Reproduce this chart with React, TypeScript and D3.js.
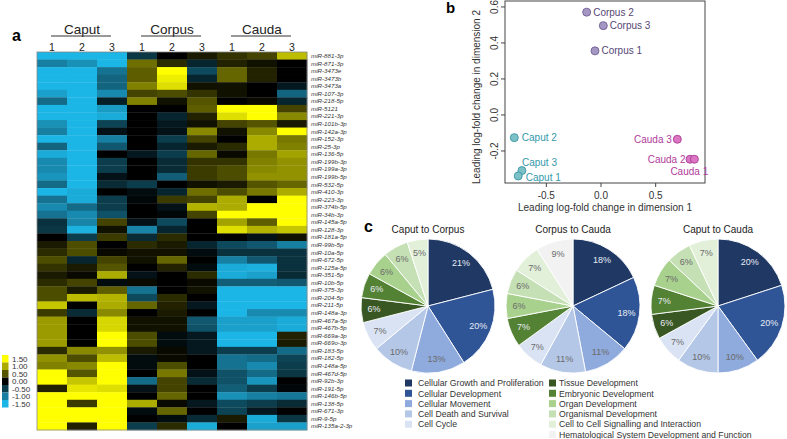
import React from 'react';
import * as d3 from 'd3';

// heatmap (z-scores)
const groups = ['Caput', 'Corpus', 'Cauda'];
const samples = ['1', '2', '3', '1', '2', '3', '1', '2', '3'];
const mirnas = [
  'miR-881-3p', 'miR-871-3p', 'miR-3473e', 'miR-3473b', 'miR-3473a', 'miR-107-3p', 'miR-218-5p',
  'miR-5121', 'miR-221-3p', 'miR-101b-3p', 'miR-142a-3p', 'miR-152-3p', 'miR-25-3p', 'miR-136-5p',
  'miR-199b-3p', 'miR-199a-3p', 'miR-199b-5p', 'miR-532-5p', 'miR-410-3p', 'miR-223-3p',
  'miR-374b-5p', 'miR-34b-3p', 'miR-145a-5p', 'miR-128-3p', 'miR-181a-5p', 'miR-99b-5p',
  'miR-10a-5p', 'miR-672-5p', 'miR-125a-5p', 'miR-351-5p', 'miR-10b-5p', 'miR-375-3p',
  'miR-204-5p', 'miR-211-5p', 'miR-148a-3p', 'miR-467a-5p', 'miR-467b-5p', 'miR-669a-3p',
  'miR-669o-3p', 'miR-183-5p', 'miR-182-5p', 'miR-148a-5p', 'miR-467d-5p', 'miR-92b-3p',
  'miR-191-5p', 'miR-146b-5p', 'miR-138-5p', 'miR-671-3p', 'miR-9-5p', 'miR-135a-2-3p',
];
const zscores = [
  [-1.5, -1.5, -1.5, -0.45, 0, 0.15, 0.3, 0.4, 1.1],
  [-1.0, -1.15, -1.5, 0.65, 0.25, -0.3, 0.2, 0.1, 0],
  [-1.5, -1.5, -0.9, 0.55, 1.5, -0.6, 0.6, 0.2, 0],
  [-1.5, -1.5, -0.8, 0.55, 1.4, -0.3, 0.6, 0.2, 0],
  [-1.5, -1.5, -0.8, 0.75, 1.3, 0.1, 0.1, 0, -0.2],
  [-1.3, -1.5, -1.1, 0.4, 0.45, 0.3, 0.1, 0, -0.8],
  [-0.85, -1.5, -0.25, 0.75, 0.1, 0.5, 0, 0.05, -0.3],
  [-1.5, -1.5, -1.25, 0, 0, 0.55, 1.5, 1.5, 0.4],
  [-1.5, -1.5, -1.4, 0, -0.3, 0.2, 1.3, 1.5, 0.8],
  [-1.15, -1.5, -0.55, 0, -0.2, 0.1, 0.4, 0.5, 0.15],
  [-1.0, -1.5, -0.15, 0, -0.15, 0.8, 0.1, 0.8, 1.5],
  [-1.5, -1.5, -1.0, 0, -0.5, 0.4, 0, 1.0, 0.7],
  [-0.8, -1.5, -0.7, 0, -0.3, 0.15, 0.25, 1.0, 0.75],
  [-1.4, -1.5, 0, -0.2, -0.5, 0.6, 0.05, 0.7, 0.95],
  [-1.1, -1.5, -0.5, 0, -0.35, 0.3, 0.3, 0.75, 0.85],
  [-1.1, -1.5, -0.5, 0, -0.35, 0.35, 0.45, 0.8, 0.85],
  [-1.2, -1.5, -0.15, 0, -0.75, 0.35, 0.45, 0.85, 0.85],
  [-0.85, -1.5, -0.35, -0.5, 0, 0.1, 0.15, 0.5, 0.6],
  [-1.5, -1.4, 0, -0.1, -0.3, 0.65, 0.45, 0.7, 1.0],
  [-0.9, -1.4, -0.5, -0.05, 0.35, 0.4, 1.0, 0, 1.5],
  [-1.1, -0.85, -0.5, 0, -0.15, 1.05, 1.0, 1.5, 1.5],
  [-0.9, -1.1, -0.65, 0, -0.05, 0.4, 1.5, 1.5, 1.5],
  [-0.4, -1.05, 0.4, -0.15, -0.6, 0, 0.95, 0.55, 1.5],
  [-0.45, -1.45, 0.1, -1.05, -0.3, 0, 1.3, 1.05, 1.15],
  [0, -0.5, 0.35, -0.35, 0.25, 0, 0, -0.15, 0.1],
  [0.15, 0.45, 0, 0.25, 0.15, -0.3, -0.6, -0.7, -1.0],
  [0.25, 0.45, 0.05, 0.1, 0.1, -0.1, -0.4, -0.4, -0.4],
  [0.45, -0.3, 0.4, 0.1, 0.6, 0, -1.0, -0.7, -0.4],
  [0.3, 0.15, 0.5, 0, 0.2, -0.1, -1.4, -1.45, -0.4],
  [0.15, 0.05, 1.0, -0.15, 0, 0.25, -1.4, -1.3, -0.35],
  [0.25, 0.4, -0.1, 0.05, 0, 0.05, -0.75, -0.75, -0.7],
  [0.45, 0.15, 0.55, -0.9, 0, 0.1, -1.5, -1.5, -1.5],
  [0.45, 1.1, 1.05, -0.6, 0.25, 0, -1.5, -1.5, -1.5],
  [1.15, 0, 1.0, 0.6, 0.2, -0.2, -1.5, -1.5, -1.5],
  [0.35, -0.35, 0.8, 0, 0.15, 0, -1.5, -1.1, -1.1],
  [0.9, 0, 1.25, 0.1, 0.1, -0.7, -1.3, -1.3, -1.4],
  [0.9, 0, 1.25, 0.1, 0.1, -0.65, -1.3, -1.3, -1.4],
  [0.9, 0, 1.5, 0.45, -0.1, -0.2, -1.5, -1.5, 0.2],
  [0.9, 0, 1.5, 0.45, -0.1, -0.2, -1.5, -1.5, 0.15],
  [0.25, 0.8, 0.85, 0.15, 0.05, -0.2, -0.5, -0.5, -0.85],
  [0.85, 0.45, 1.1, -0.1, 0.05, 0, -0.9, -0.85, -0.55],
  [0.75, 0.8, 1.5, -0.1, 0.45, 0, -0.9, -1.1, -0.5],
  [1.5, 0.5, 1.5, 0, 0.7, -0.15, -0.65, -0.85, -0.45],
  [1.5, 1.15, 1.5, -0.85, 0.4, -0.35, -0.65, -1.2, 0],
  [0.2, 1.35, 1.3, -0.15, 0.4, 0, -0.75, -0.5, -0.05],
  [1.5, 1.5, 1.5, 0, 0.6, 0, -1.15, -1.0, -0.95],
  [1.5, 0.35, 1.5, 1.0, 0.05, -0.2, -0.6, -0.5, -0.35],
  [1.5, 1.5, 1.5, -0.1, 0.6, 0, -0.55, -0.2, 0],
  [1.5, 1.5, 1.5, 0, -0.1, -0.35, 0.15, -1.4, -0.45],
  [1.5, 0.2, 1.5, -0.5, 0.25, -1.4, 0, -1.3, -1.3],
];
const keyValues = [1.5, 1.0, 0.5, 0, -0.5, -1.0, -1.5];

// MDS plot
const mdsLabels = ['Corpus 2', 'Corpus 3', 'Corpus 1', 'Caput 2', 'Caput 3', 'Caput 1', 'Cauda 3', 'Cauda 2', 'Cauda 1'];
const mdsDim1 = [-0.131, 0.021, -0.055, -0.793, -0.723, -0.757, 0.698, 0.814, 0.854];
const mdsDim2 = [0.571, 0.496, 0.356, -0.126, -0.309, -0.339, -0.135, -0.246, -0.246];
const xTicks = [-0.5, 0.0, 0.5];
const yTicks = [-0.2, 0.0, 0.2, 0.4, 0.6];

// pathway pies
const pathways = [
  'Cellular Growth and Proliferation', 'Cellular Development', 'Cellular Movement',
  'Cell Death and Survival', 'Cell Cycle', 'Tissue Development', 'Embryonic Development',
  'Organ Development', 'Organismal Development', 'Cell to Cell Signalling and Interaction',
  'Hematological System Development and Function',
];
const pieTitles = ['Caput to Corpus', 'Corpus to Cauda', 'Caput to Cauda'];
const caputToCorpus = [21, 20, 13, 10, 7, 6, 6, 6, 6, 5, 0];
const corpusToCauda = [18, 18, 11, 11, 7, 0, 7, 6, 6, 7, 9];
const caputToCauda = [20, 20, 10, 10, 7, 6, 7, 7, 6, 7, 0];

const FONT = 'Liberation Sans, Arial, sans-serif';

const heatColor = d3.scaleLinear<string>()
  .domain([-1.5, -1.0, -0.5, 0, 0.5, 1.0, 1.5])
  .range(['#1cb6e6', '#177fa1', '#0c3d4d', '#000000', '#555500', '#acac00', '#ffff00'])
  .clamp(true);

const pieColors = ['#1f3864', '#2f5597', '#8faadc', '#b4c7e7', '#dae3f3', '#385723', '#548235', '#a9d18e', '#c5e0b4', '#e2f0d9', '#f2f2f2'];
const darkSlice = [true, true, false, false, false, true, true, false, false, false, false];

const groupFill = ['#a597c4', '#7cc0c8', '#dc76c4'];
const groupStroke = ['#6f5f94', '#3b96a3', '#a63d92'];
const groupText = ['#564774', '#3399aa', '#b23c9c'];

const Heatmap = () => {
  const x = d3.scaleBand<number>().domain(d3.range(9)).range([37, 307]);
  const y = d3.scaleBand<number>().domain(d3.range(mirnas.length)).range([52, 430]);
  const bw = x.bandwidth();
  return (
    <g>
      <text x={12} y={41} fontSize={16} fontWeight="bold">a</text>
      {groups.map((g, i) => {
        const c1 = x(i * 3)! + bw / 2;
        const c3 = x(i * 3 + 2)! + bw / 2;
        return (
          <g key={g}>
            <text x={(c1 + c3) / 2} y={33.5} fontSize={13.5} textAnchor="middle" fill="#222">{g}</text>
            <line x1={c1 - 1} x2={c3 - 1} y1={36} y2={36} stroke="#333" strokeWidth={1} />
          </g>
        );
      })}
      {samples.map((s, j) => (
        <text key={j} x={x(j)! + bw / 2} y={51} fontSize={10.5} textAnchor="middle" fill="#222">{s}</text>
      ))}
      {zscores.map((row, i) => row.map((v, j) => (
        <rect key={`${i}-${j}`} x={x(j)!} y={y(i)!} width={bw + 0.3} height={y.bandwidth() + 0.3} fill={heatColor(v)} />
      )))}
      <rect x={37} y={52} width={270} height={378} fill="none" stroke="#888" strokeWidth={0.8} />
      {mirnas.map((m, i) => (
        <text key={m} x={311} y={y(i)! + y.bandwidth() / 2 + 2.2} fontSize={6.2} fontStyle="italic" fill="#333">{m}</text>
      ))}
      {keyValues.map((v, i) => (
        <g key={v}>
          <rect x={2} y={355 + i * 7.5} width={6.5} height={7.5} fill={heatColor(v)} />
          <text x={12} y={355 + i * 7.5 + 6.5} fontSize={8} fill="#333">{v.toFixed(2)}</text>
        </g>
      ))}
    </g>
  );
};

const MdsPlot = () => {
  const x = d3.scaleLinear().domain([-0.878, 0.951]).range([505, 705]);
  const y = d3.scaleLinear().domain([-0.378, 0.633]).range([183, 1]);
  const groupOf = (l: string) => (l.startsWith('Corpus') ? 0 : l.startsWith('Caput') ? 1 : 2);
  // label placement relative to point
  const labelPos: Record<string, [number, number, string]> = {
    'Corpus 2': [6.5, 0, 'start'], 'Corpus 3': [6.5, 0, 'start'], 'Corpus 1': [6.5, 0, 'start'],
    'Caput 2': [7.5, 0, 'start'], 'Caput 3': [0, -8, 'start'], 'Caput 1': [7.5, 2, 'start'],
    'Cauda 3': [-5.5, 0, 'end'], 'Cauda 2': [-4.5, 0, 'end'], 'Cauda 1': [-24, 12, 'start'],
  };
  return (
    <g fontFamily={FONT}>
      <text x={446} y={12.7} fontSize={15} fontWeight="bold">b</text>
      <rect x={505} y={1} width={200} height={182} fill="none" stroke="#444" strokeWidth={1} />
      {xTicks.map(t => (
        <g key={t}>
          <line x1={x(t)} x2={x(t)} y1={183} y2={187} stroke="#444" />
          <text x={x(t)} y={199} fontSize={10} textAnchor="middle" fill="#333">{t.toFixed(1)}</text>
        </g>
      ))}
      {yTicks.map(t => (
        <g key={t}>
          <line x1={501} x2={505} y1={y(t)} y2={y(t)} stroke="#444" />
          <text transform={`translate(498,${y(t)}) rotate(-90)`} fontSize={10} textAnchor="middle" fill="#333">{t.toFixed(1)}</text>
        </g>
      ))}
      <text x={605} y={211} fontSize={10} textAnchor="middle" fill="#333">Leading log-fold change in dimension 1</text>
      <text transform="translate(480,97) rotate(-90)" fontSize={10} textAnchor="middle" fill="#333">Leading log-fold change in dimension 2</text>
      {mdsLabels.map((l, i) => {
        const g = groupOf(l);
        return (
          <circle key={l} cx={x(mdsDim1[i])} cy={y(mdsDim2[i])} r={4} fill={groupFill[g]} stroke={groupStroke[g]} strokeWidth={0.9} />
        );
      })}
      {mdsLabels.map((l, i) => {
        const g = groupOf(l);
        const [dx, dy, anchor] = labelPos[l];
        return (
          <text key={l} x={x(mdsDim1[i]) + dx} y={y(mdsDim2[i]) + dy + 3.5} fontSize={10} textAnchor={anchor as any} fill={groupText[g]}>{l}</text>
        );
      })}
    </g>
  );
};

const Pie = ({ values, cx, title }: { values: number[]; cx: number; title: string }) => {
  const cy = 306;
  const r = 67;
  const arcs = d3.pie<number>().sort(null).value(d => d)(values);
  const arc = d3.arc<d3.PieArcDatum<number>>().innerRadius(0).outerRadius(r);
  const labelArc = d3.arc<d3.PieArcDatum<number>>().innerRadius(54).outerRadius(54);
  return (
    <g transform={`translate(${cx},${cy})`}>
      <text x={0} y={-73} fontSize={10} textAnchor="middle" fill="#222">{title}</text>
      {arcs.map((a, i) => a.value > 0 && (
        <path key={i} d={arc(a)!} fill={pieColors[i]} stroke="#fff" strokeWidth={0.9} />
      ))}
      {arcs.map((a, i) => {
        if (a.value <= 0) return null;
        const [lx, ly] = labelArc.centroid(a);
        return (
          <text key={`l${i}`} x={lx} y={ly + 3} fontSize={9} textAnchor="middle" fill={darkSlice[i] ? '#e8ecf4' : '#6b6b6b'}>{a.value}%</text>
        );
      })}
    </g>
  );
};

const Pies = () => {
  const col1 = pathways.slice(0, 5);
  const col2 = pathways.slice(5);
  return (
    <g fontFamily={FONT}>
      <text x={364} y={232} fontSize={16} fontWeight="bold">c</text>
      <Pie values={caputToCorpus} cx={428} title={pieTitles[0]} />
      <Pie values={corpusToCauda} cx={573} title={pieTitles[1]} />
      <Pie values={caputToCauda} cx={718} title={pieTitles[2]} />
      {col1.map((p, i) => (
        <g key={p}>
          <rect x={405} y={379.5 + i * 10.3} width={7} height={7} fill={pieColors[i]} />
          <text x={418} y={386.2 + i * 10.3} fontSize={8.7} fill="#333">{p}</text>
        </g>
      ))}
      {col2.map((p, i) => (
        <g key={p}>
          <rect x={549} y={379.5 + i * 10.3} width={7} height={7} fill={pieColors[i + 5]} />
          <text x={559} y={386.2 + i * 10.3} fontSize={8.7} fill="#333">{p}</text>
        </g>
      ))}
    </g>
  );
};

const App = () => (
  <svg width={787} height={439} style={{ position: 'absolute', left: 0, top: 0, background: '#fff' }} fontFamily={FONT}>
    <Heatmap />
    <MdsPlot />
    <Pies />
  </svg>
);

export default App;
